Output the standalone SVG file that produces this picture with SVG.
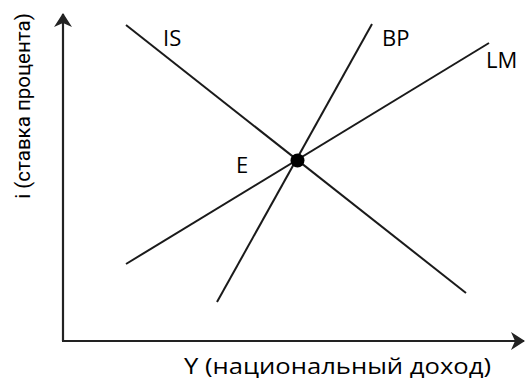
<svg xmlns="http://www.w3.org/2000/svg" width="526" height="382" viewBox="0 0 526 382">
<style>
.ax{stroke:#222;stroke-width:2.2;fill:none}
.ln{stroke:#1a1a1a;stroke-width:2;fill:none}
.lb{font-family:"Open Sans","Liberation Sans",sans-serif;font-size:22px;fill:#000}
.al{font-family:Roboto,"Liberation Sans",sans-serif;font-size:20.5px;fill:#000}
</style>
<defs>
<marker id="ar" viewBox="0 0 14 18" refX="13" refY="9" markerWidth="14" markerHeight="18" orient="auto" markerUnits="userSpaceOnUse">
<path d="M0,0 L14,9 L0,18 L4,9 Z" fill="#222"/>
</marker>
</defs>
<g id="axes">
<path class="ax" d="M63,341 L63,14" marker-end="url(#ar)"/>
<path class="ax" d="M62,341 L524,341" marker-end="url(#ar)"/>
</g>
<g id="connectors">
<line id="IS" class="ln" x1="126" y1="25" x2="466" y2="293"/>
<line id="BP" class="ln" x1="372" y1="24" x2="217" y2="302"/>
<line id="LM" class="ln" x1="489" y1="43" x2="126" y2="264"/>
</g>
<g id="E"><circle cx="297.5" cy="160.5" r="7" fill="#000"/><text class="lb" x="236" y="173">E</text></g>
<g id="labels">
<text class="lb" x="163" y="46">IS</text>
<text class="lb" x="382" y="46">BP</text>
<text class="lb" x="486" y="68">LM</text>
<text class="lb" x="184" y="374" font-size="23" textLength="307" lengthAdjust="spacingAndGlyphs">Y (национальный доход)</text>
<text class="al" transform="translate(30,106) rotate(-90)" text-anchor="middle">i (ставка процента)</text>
</g>
</svg>
